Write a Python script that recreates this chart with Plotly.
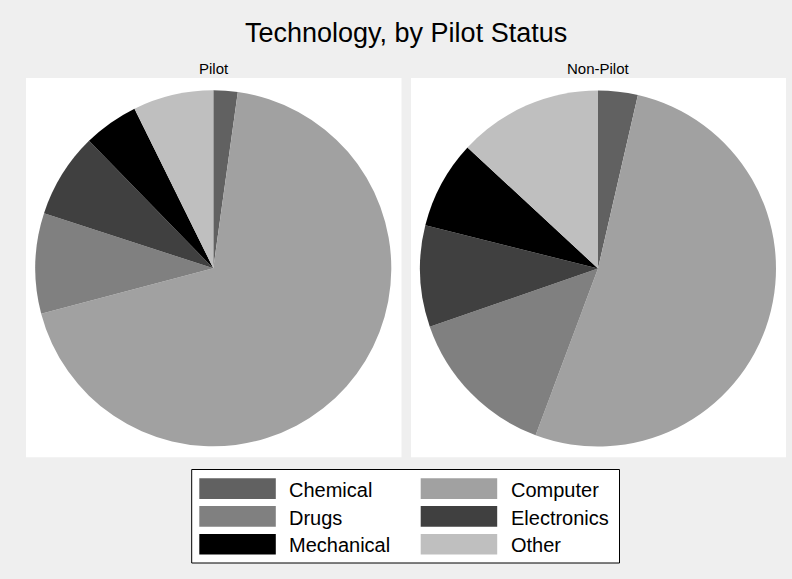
import plotly.graph_objects as go

# ---- data (percent shares) ----
categories = ["Chemical", "Computer", "Drugs", "Electronics", "Mechanical", "Other"]
pilot_values = [2.2, 68.7, 9.1, 7.7, 5.0, 7.3]
nonpilot_values = [3.6, 52.1, 14.0, 9.2, 8.0, 13.1]
panel_titles = ["Pilot", "Non-Pilot"]
chart_title = "Technology, by Pilot Status"

# ---- styles ----
colors = ["#616161", "#a1a1a1", "#808080", "#404040", "#000000", "#bfbfbf"]
BG = "#efefef"
FONT = "Liberation Sans, Arial, Helvetica, sans-serif"
W, H = 792, 579


def px(x):
    return x / W


def py(y):
    return 1 - y / H


fig = go.Figure()

pie_domains = [
    dict(x=[px(35.3), px(391.3)], y=[py(446.3), py(90.3)]),
    dict(x=[px(420.0), px(776.0)], y=[py(446.5), py(90.5)]),
]
for vals, dom, name in zip([pilot_values, nonpilot_values], pie_domains, panel_titles):
    fig.add_trace(go.Pie(
        labels=categories, values=vals, name=name,
        domain=dom, sort=False, direction="clockwise", rotation=0,
        marker=dict(colors=colors, line=dict(width=0)),
        textinfo="none", hoverinfo="label+percent", showlegend=False,
    ))

shapes = []
annotations = []

# white panels
panels = [(26, 401.5), (411, 786)]
for (x0, x1), t in zip(panels, panel_titles):
    shapes.append(dict(type="rect", xref="paper", yref="paper",
                       x0=px(x0), x1=px(x1), y0=py(457.3), y1=py(78),
                       fillcolor="white", line=dict(width=0), layer="below"))
    annotations.append(dict(text=t, xref="paper", yref="paper",
                            x=px((x0 + x1) / 2), y=py(68.8),
                            xanchor="center", yanchor="middle", showarrow=False,
                            font=dict(family=FONT, size=15, color="black")))

# title
annotations.append(dict(text=chart_title, xref="paper", yref="paper",
                        x=px(406), y=py(33.0), xanchor="center", yanchor="middle",
                        showarrow=False, font=dict(family=FONT, size=27, color="black")))

# legend box
shapes.append(dict(type="rect", xref="paper", yref="paper",
                   x0=px(191.7), x1=px(619.5), y0=py(563), y1=py(469.5),
                   fillcolor="white", line=dict(color="black", width=1), layer="below"))

col_swatch_x = [199.3, 420.7]
swatch_w = 76.5
text_gap = 11.5
row_y0 = 478.3
row_step = 27.8
swatch_h = 20.7
for i, (cat, col) in enumerate(zip(categories, colors)):
    r, c = divmod(i, 2)
    y0 = row_y0 + r * row_step
    x0 = col_swatch_x[c]
    shapes.append(dict(type="rect", xref="paper", yref="paper",
                       x0=px(x0), x1=px(x0 + swatch_w), y0=py(y0 + swatch_h), y1=py(y0),
                       fillcolor=col, line=dict(width=0)))
    annotations.append(dict(text=cat, xref="paper", yref="paper",
                            x=px(x0 + swatch_w + text_gap), y=py(y0 + 11.5),
                            xanchor="left", yanchor="middle", showarrow=False,
                            font=dict(family=FONT, size=20, color="black")))

fig.update_layout(
    width=W, height=H,
    margin=dict(l=0, r=0, t=0, b=0),
    paper_bgcolor=BG, plot_bgcolor=BG,
    shapes=shapes, annotations=annotations,
    showlegend=False,
)

fig.write_html("out.html",
               config={"displayModeBar": False},
               post_script="document.body.style.margin='0px';document.body.style.padding='0px';")
